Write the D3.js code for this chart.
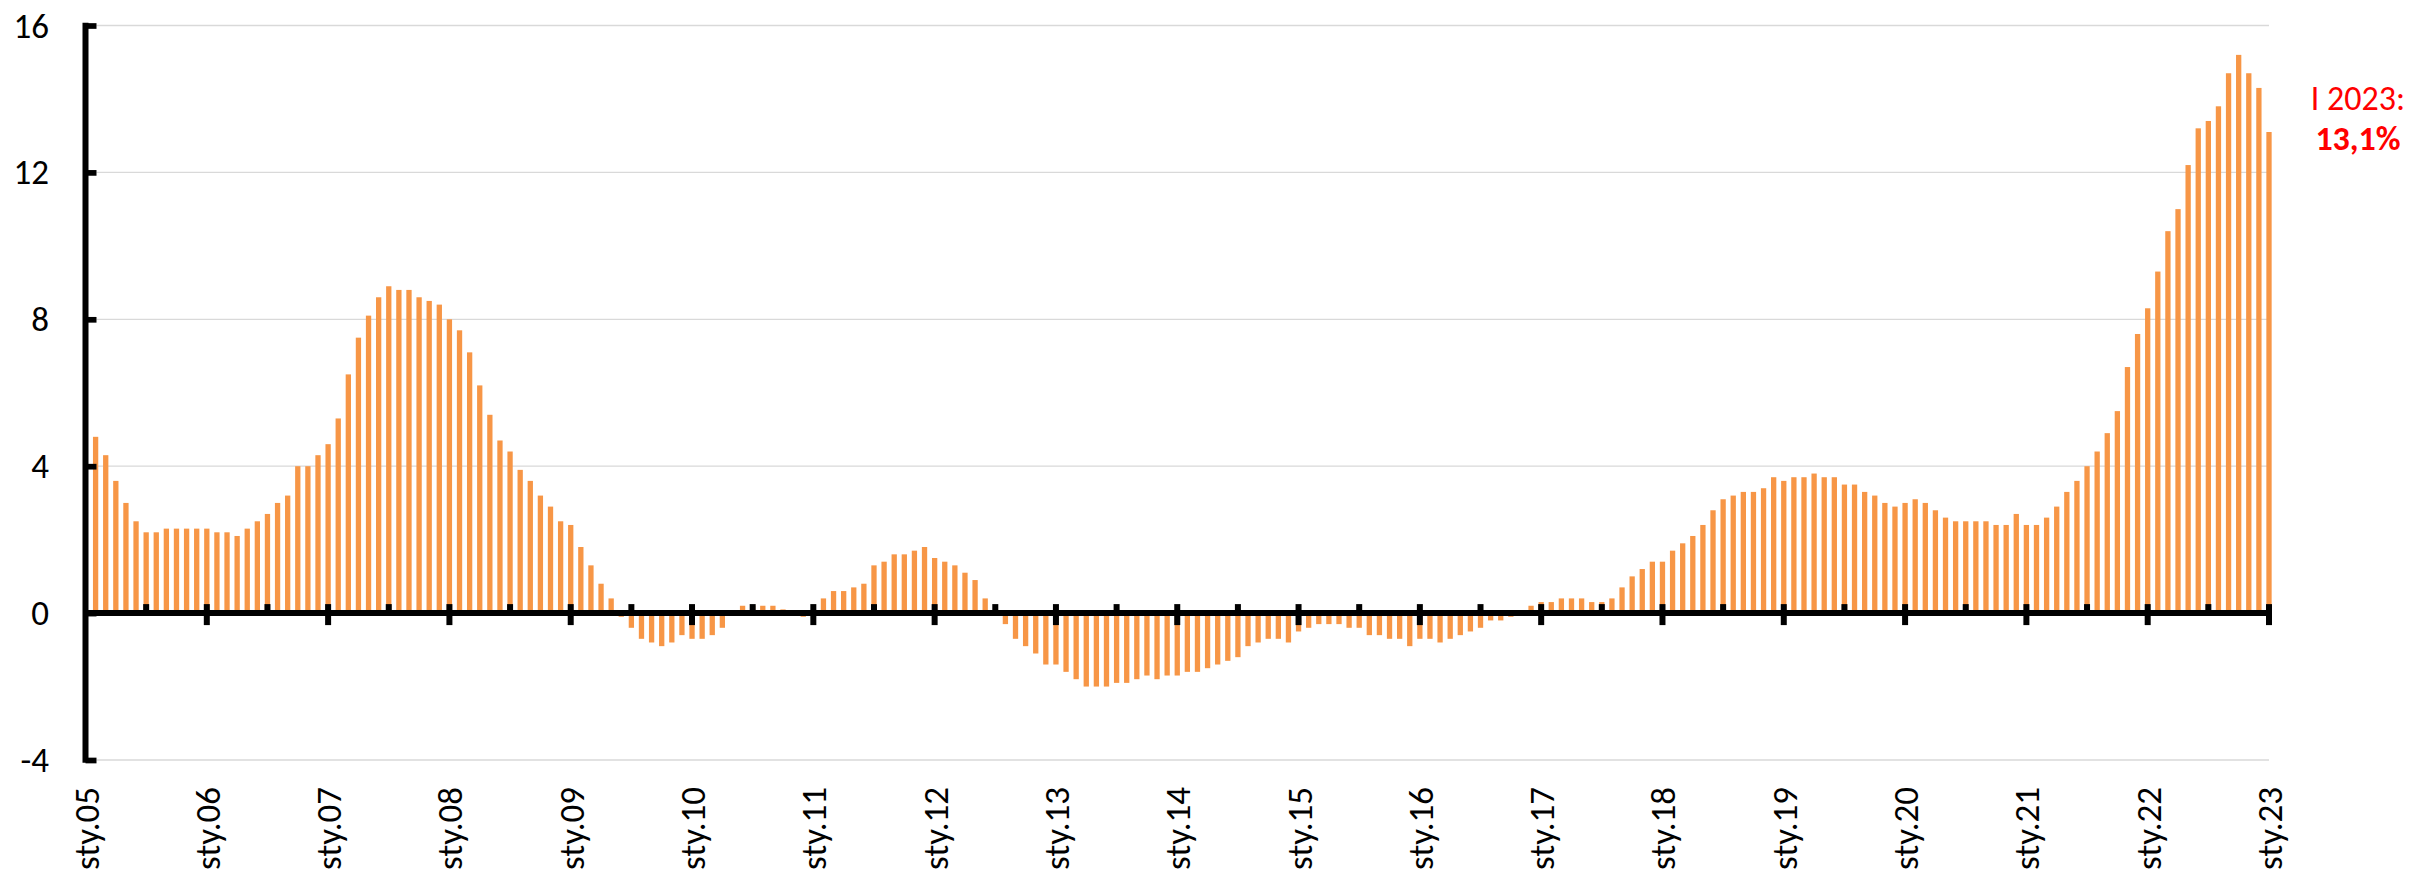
<!DOCTYPE html>
<html>
<head>
<meta charset="utf-8">
<script src="https://cdn.jsdelivr.net/npm/d3@7"></script>
<style>
  html, body { margin: 0; padding: 0; background: #fff; }
  svg { display: block; font-family: Carlito, Calibri, Lato, sans-serif; }
</style>
</head>
<body>
<svg width="2412" height="878"></svg>
<script>
// y/y change, monthly, lut.05 .. sty.23 (sty.05 sits under the y axis)
const values = [
  4.8, 4.3, 3.6, 3.0, 2.5, 2.2, 2.2, 2.3, 2.3, 2.3, 2.3, 2.3,
  2.2, 2.2, 2.1, 2.3, 2.5, 2.7, 3.0, 3.2, 4.0, 4.0, 4.3, 4.6,
  5.3, 6.5, 7.5, 8.1, 8.6, 8.9, 8.8, 8.8, 8.6, 8.5, 8.4, 8.0,
  7.7, 7.1, 6.2, 5.4, 4.7, 4.4, 3.9, 3.6, 3.2, 2.9, 2.5, 2.4,
  1.8, 1.3, 0.8, 0.4, -0.1, -0.4, -0.7, -0.8, -0.9, -0.8, -0.6, -0.7,
  -0.7, -0.6, -0.4, 0.0, 0.2, 0.2, 0.2, 0.2, 0.1, 0.0, -0.1, 0.0,
  0.4, 0.6, 0.6, 0.7, 0.8, 1.3, 1.4, 1.6, 1.6, 1.7, 1.8, 1.5,
  1.4, 1.3, 1.1, 0.9, 0.4, 0.0, -0.3, -0.7, -0.9, -1.1, -1.4, -1.4,
  -1.6, -1.8, -2.0, -2.0, -2.0, -1.9, -1.9, -1.8, -1.7, -1.8, -1.7, -1.7,
  -1.6, -1.6, -1.5, -1.4, -1.3, -1.2, -0.9, -0.8, -0.7, -0.7, -0.8, -0.5,
  -0.4, -0.3, -0.3, -0.3, -0.4, -0.4, -0.6, -0.6, -0.7, -0.7, -0.9, -0.7,
  -0.7, -0.8, -0.7, -0.6, -0.5, -0.4, -0.2, -0.2, -0.1, 0.0, 0.2, 0.3,
  0.3, 0.4, 0.4, 0.4, 0.3, 0.3, 0.4, 0.7, 1.0, 1.2, 1.4, 1.4,
  1.7, 1.9, 2.1, 2.4, 2.8, 3.1, 3.2, 3.3, 3.3, 3.4, 3.7, 3.6,
  3.7, 3.7, 3.8, 3.7, 3.7, 3.5, 3.5, 3.3, 3.2, 3.0, 2.9, 3.0,
  3.1, 3.0, 2.8, 2.6, 2.5, 2.5, 2.5, 2.5, 2.4, 2.4, 2.7, 2.4,
  2.4, 2.6, 2.9, 3.3, 3.6, 4.0, 4.4, 4.9, 5.5, 6.7, 7.6, 8.3,
  9.3, 10.4, 11.0, 12.2, 13.2, 13.4, 13.8, 14.7, 15.2, 14.7, 14.3, 13.1
];
const firstMonth = 1; // months after sty.05

const yearLabels = ['sty.05', 'sty.06', 'sty.07', 'sty.08', 'sty.09', 'sty.10',
  'sty.11', 'sty.12', 'sty.13', 'sty.14', 'sty.15', 'sty.16', 'sty.17',
  'sty.18', 'sty.19', 'sty.20', 'sty.21', 'sty.22', 'sty.23'];

const yTicks = [-4, 0, 4, 8, 12, 16];

const noteLines = ['I 2023:', '13,1%'];

const svg = d3.select('svg');

const lastMonth = (yearLabels.length - 1) * 12;

const x = d3.scaleLinear()
  .domain([0, lastMonth])
  .range([85.5, 2269]);

const y = d3.scaleLinear()
  .domain([d3.min(yTicks), d3.max(yTicks)])
  .range([760, 25.5]);

const barW = 5.3;

// gridlines
svg.append('g')
  .selectAll('line')
  .data(yTicks.filter(d => d !== 0))
  .enter()
    .append('line')
    .attr('x1', x(0) + 11)
    .attr('x2', x(lastMonth))
    .attr('y1', d => y(d))
    .attr('y2', d => y(d))
    .attr('stroke', '#d9d9d9')
    .attr('stroke-width', 1.3);

// bars
svg.append('g')
  .selectAll('rect')
  .data(values)
  .enter()
    .append('rect')
    .attr('x', (d, i) => x(i + firstMonth) - barW / 2)
    .attr('width', barW)
    .attr('y', d => y(Math.max(0, d)))
    .attr('height', d => Math.abs(y(d) - y(0)))
    .attr('fill', '#f79646');

// y axis
const yAxis = d3.axisRight(y)
  .tickValues(yTicks)
  .tickSize(11)
  .tickFormat('');

svg.append('g')
  .attr('transform', `translate(${x(0)},0)`)
  .call(yAxis)
  .call(g => g.select('.domain').remove())
  .call(g => g.selectAll('.tick line').attr('stroke', '#000').attr('stroke-width', 5.7));

svg.append('line')
  .attr('x1', x(0)).attr('x2', x(0))
  .attr('y1', y(-4) + 2.8).attr('y2', y(16) - 2.8)
  .attr('stroke', '#000')
  .attr('stroke-width', 6);

svg.append('g')
  .selectAll('text')
  .data(yTicks)
  .enter()
    .append('text')
    .attr('x', 49)
    .attr('y', d => y(d))
    .attr('text-anchor', 'end')
    .attr('dominant-baseline', 'central')
    .attr('font-size', 35)
    .attr('fill', '#000')
    .text(d => d);

// x axis at zero
const halfYears = d3.range(6, lastMonth, 12);

svg.append('line')
  .attr('x1', x(0))
  .attr('x2', x(lastMonth) + 3)
  .attr('y1', y(0))
  .attr('y2', y(0))
  .attr('stroke', '#000')
  .attr('stroke-width', 6);

svg.append('g')
  .selectAll('line')
  .data(halfYears)
  .enter()
    .append('line')
    .attr('x1', d => x(d))
    .attr('x2', d => x(d))
    .attr('y1', y(0) - 9)
    .attr('y2', y(0))
    .attr('stroke', '#000')
    .attr('stroke-width', 6);

svg.append('g')
  .selectAll('line')
  .data(yearLabels.slice(1))
  .enter()
    .append('line')
    .attr('x1', (d, i) => x((i + 1) * 12))
    .attr('x2', (d, i) => x((i + 1) * 12))
    .attr('y1', y(0) - 9)
    .attr('y2', y(0) + 12)
    .attr('stroke', '#000')
    .attr('stroke-width', 6);

svg.append('g')
  .selectAll('text')
  .data(yearLabels)
  .enter()
    .append('text')
    .attr('transform', (d, i) => `translate(${x(i * 12) + 1},787) rotate(-90)`)
    .attr('text-anchor', 'end')
    .attr('dominant-baseline', 'central')
    .attr('font-size', 35)
    .attr('fill', '#000')
    .text(d => d);

// note for the last month
svg.append('g')
  .selectAll('text')
  .data(noteLines)
  .enter()
    .append('text')
    .attr('x', 2358)
    .attr('y', (d, i) => 110 + i * 40)
    .attr('text-anchor', 'middle')
    .attr('font-size', 34)
    .attr('font-weight', (d, i) => i === 1 ? 'bold' : 'normal')
    .attr('fill', '#ff0000')
    .text(d => d);
</script>
</body>
</html>
